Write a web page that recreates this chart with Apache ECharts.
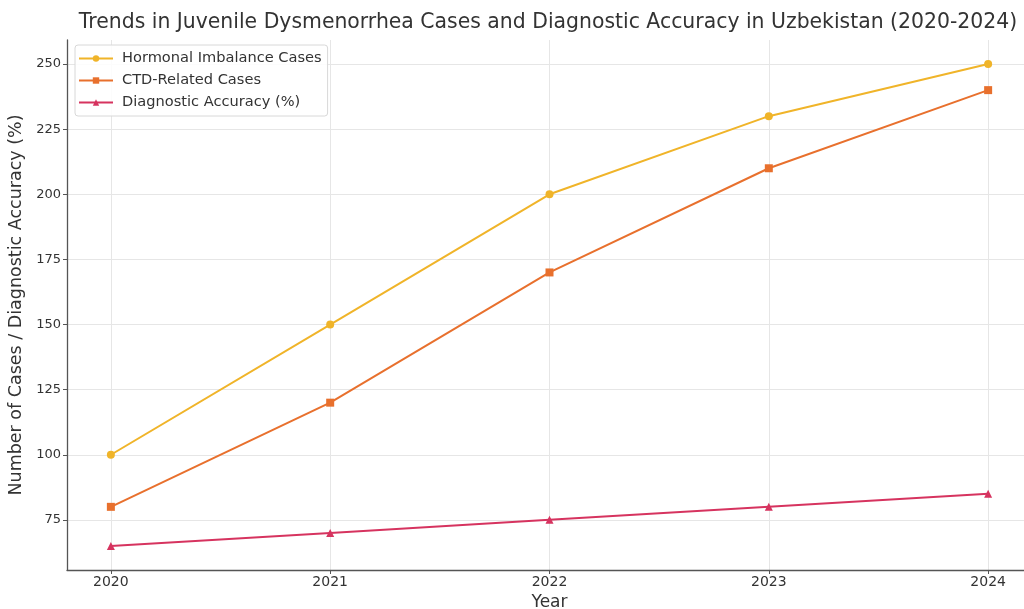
<!DOCTYPE html>
<html>
<head>
<meta charset="utf-8">
<script src="https://cdn.jsdelivr.net/npm/echarts@6/dist/echarts.min.js"></script>
<style>
  html, body { margin: 0; padding: 0; background: #fff; }
  #chart { width: 1024px; height: 609px; }
</style>
</head>
<body>
<div id="chart"></div>
<script>
// Yearly figures
const years = [2020, 2021, 2022, 2023, 2024];
const hormonalCases = [100, 150, 200, 230, 250];
const ctdCases = [80, 120, 170, 210, 240];
const diagnosticAccuracy = [65, 70, 75, 80, 85];
const yTicks = [75, 100, 125, 150, 175, 200, 225, 250];

const FONT = "'DejaVu Sans', sans-serif";
const pairs = vals => years.map((y, i) => [y, vals[i]]);

const chart = echarts.init(document.getElementById('chart'));
chart.setOption({
  backgroundColor: '#ffffff',
  animation: false,
  title: {
    text: 'Trends in Juvenile Dysmenorrhea Cases and Diagnostic Accuracy in Uzbekistan (2020-2024)',
    left: 543, top: 8, textAlign: 'center',
    textStyle: { fontFamily: FONT, fontSize: 20.4, fontWeight: 'normal', color: '#333' }
  },
  legend: {
    orient: 'vertical', left: 75, top: 45,
    itemWidth: 34, itemHeight: 8, itemGap: 7,
    padding: [6, 6, 6, 3],
    backgroundColor: 'rgba(255,255,255,0.85)',
    borderColor: '#d8d8d8', borderWidth: 1, borderRadius: 3,
    textStyle: { fontFamily: FONT, fontSize: 14.6, color: '#333', padding: [0, 0, 0, 4] },
    data: ['Hormonal Imbalance Cases', 'CTD-Related Cases', 'Diagnostic Accuracy (%)']
  },
  grid: { left: 67, right: -8, top: 40, bottom: 39, containLabel: false, outerBoundsMode: 'none' },
  xAxis: {
    type: 'value', min: 2019.8, max: 2024.2,
    name: 'Year', nameLocation: 'middle', nameGap: 22,
    nameTextStyle: { fontFamily: FONT, fontSize: 17, color: '#333' },
    axisLine: { lineStyle: { color: '#555', width: 1.3 } },
    axisTick: { show: true, customValues: years, length: 4, lineStyle: { color: '#555' } },
    axisLabel: { customValues: years, fontFamily: FONT, fontSize: 14, color: '#333', margin: 5,
                 formatter: v => String(Math.round(v)) },
    splitLine: { show: true, lineStyle: { color: '#e6e6e6', width: 1 } }
  },
  yAxis: {
    type: 'value', min: 55.75, max: 259.25,
    name: 'Number of Cases / Diagnostic Accuracy (%)', nameLocation: 'middle', nameGap: 42,
    nameTextStyle: { fontFamily: FONT, fontSize: 17.5, color: '#333' },
    axisLine: { show: true, lineStyle: { color: '#555', width: 1.3 } },
    axisTick: { show: true, customValues: yTicks, length: 4, lineStyle: { color: '#555' } },
    axisLabel: { customValues: yTicks, fontFamily: FONT, fontSize: 13, color: '#333', margin: 6 },
    splitLine: { show: true, lineStyle: { color: '#e6e6e6', width: 1 } }
  },
  series: [
    {
      name: 'Hormonal Imbalance Cases', type: 'line', data: pairs(hormonalCases),
      symbol: 'circle', symbolSize: 8,
      lineStyle: { color: '#f0b429', width: 2 }, itemStyle: { color: '#f0b429' }
    },
    {
      name: 'CTD-Related Cases', type: 'line', data: pairs(ctdCases),
      symbol: 'rect', symbolSize: 8,
      lineStyle: { color: '#e8702d', width: 2 }, itemStyle: { color: '#e8702d' }
    },
    {
      name: 'Diagnostic Accuracy (%)', type: 'line', data: pairs(diagnosticAccuracy),
      symbol: 'triangle', symbolSize: 8,
      lineStyle: { color: '#d6335f', width: 2 }, itemStyle: { color: '#d6335f' }
    }
  ]
});
</script>
</body>
</html>
